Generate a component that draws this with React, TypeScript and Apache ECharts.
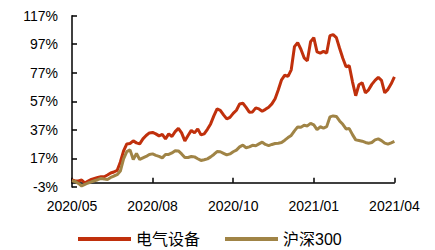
import React, { useEffect, useRef } from "react";
import * as echarts from "echarts";

const tickLabels = ["2020/05", "2020/08", "2020/10", "2021/01", "2021/04"];
const seriesNames = ["电气设备", "沪深300"];

const electrical = [
  1.9, 1.2, 1.2, 1.9, -0.2, 1.2, 2.3, 3.0, 3.7, 4.2,
  4.2, 5.4, 6.8, 7.5, 8.6, 14.5, 22.3, 27.2, 27.5, 29.3,
  27.9, 27.2, 30.7, 33.1, 34.9, 35.2, 34.2, 32.8, 33.8, 30.7,
  34.2, 32.4, 35.8, 38.1, 34.9, 29.3, 33.1, 36.7, 34.9, 37.7,
  33.5, 34.2, 37.4, 41.2, 46.8, 51.7, 50.7, 47.5, 44.7, 45.8,
  48.6, 50.8, 55.2, 55.7, 52.8, 49.4, 49.6, 52.4, 51.7, 50.1,
  51.4, 52.9, 55.2, 58.8, 65.1, 72.1, 75.3, 74.5, 79.1, 95.3,
  98.1, 93.5, 87.5, 85.4, 98.8, 101.6, 91.7, 90.8, 92.0, 90.8,
  103.0, 103.7, 101.6, 94.2, 87.2, 81.2, 81.9, 70.7, 60.9, 68.6,
  70.0, 63.0, 65.1, 68.9, 71.7, 73.8, 71.7, 63.0, 65.4, 69.3,
  74.2,
];

const csi300 = [
  1.4, 0.9, -0.5, -2.3, -1.2, -0.2, 0.6, 1.4, 2.1, 3.0,
  2.6, 2.3, 3.7, 4.7, 5.6, 8.2, 16.7, 21.8, 23.0, 16.3,
  20.5, 16.3, 17.4, 18.4, 19.8, 20.2, 19.2, 18.5, 17.4, 19.8,
  19.8, 20.9, 22.4, 22.3, 20.2, 17.7, 17.7, 18.4, 18.1, 16.8,
  15.6, 16.1, 16.7, 18.1, 19.8, 21.8, 21.7, 20.6, 19.5, 20.2,
  21.7, 22.8, 25.1, 26.3, 24.5, 25.1, 26.2, 25.9, 27.2, 28.4,
  26.8, 26.0, 26.8, 27.5, 27.7, 28.2, 29.8, 31.6, 33.1, 36.3,
  39.1, 38.8, 40.2, 39.8, 41.6, 40.5, 37.2, 39.2, 38.3, 39.3,
  46.1, 46.8, 46.4, 43.3, 40.9, 37.7, 37.9, 33.7, 30.0, 29.6,
  29.1, 28.2, 27.7, 28.2, 30.0, 30.7, 29.5, 27.7, 27.0, 27.9,
  28.9,
];

const colors = ["#C0300C", "#A08446"];
const FONT = "'Liberation Sans', Arial, 'Noto Sans CJK SC', sans-serif";

export default function App() {
  const ref = useRef<HTMLDivElement>(null);

  useEffect(() => {
    if (!ref.current) return;
    const chart = echarts.init(ref.current, null, { renderer: "svg" });
    const lastIndex = electrical.length - 1;
    const step = lastIndex / (tickLabels.length - 1);
    chart.setOption({
      animation: false,
      color: colors,
      textStyle: { fontFamily: FONT },
      grid: { left: 72, right: 40.6, top: 15.7, bottom: 63 },
      legend: {
        left: 73,
        top: 226,
        itemWidth: 53,
        itemHeight: 4,
        itemGap: 25,
        icon: "rect",
        textStyle: { fontSize: 16, lineHeight: 16, color: "#000", fontFamily: FONT },
        data: seriesNames,
      },
      xAxis: {
        type: "value",
        min: 0,
        max: lastIndex,
        interval: step,
        splitLine: { show: false },
        axisLine: { lineStyle: { color: "#000", width: 1.5 } },
        axisTick: { show: true, inside: true, length: 5, lineStyle: { color: "#000", width: 1.5 } },
        axisLabel: {
          color: "#000",
          fontSize: 14,
          margin: 12,
          fontFamily: FONT,
          formatter: (v: number) => tickLabels[Math.round(v / step)] ?? "",
        },
      },
      yAxis: {
        type: "value",
        min: -3,
        max: 117,
        interval: 20,
        splitLine: { show: false },
        axisLine: { show: true, lineStyle: { color: "#000", width: 1.5 } },
        axisTick: { show: true, inside: true, length: 5, lineStyle: { color: "#000", width: 1.5 } },
        axisLabel: {
          color: "#000",
          fontSize: 14,
          margin: 14,
          fontFamily: FONT,
          formatter: "{value}%",
        },
      },
      series: [
        {
          name: seriesNames[0],
          type: "line",
          showSymbol: false,
          symbol: "none",
          lineStyle: { width: 3, color: colors[0] },
          data: electrical.map((v, i) => [i, v]),
          z: 2,
        },
        {
          name: seriesNames[1],
          type: "line",
          showSymbol: false,
          symbol: "none",
          lineStyle: { width: 3, color: colors[1] },
          data: csi300.map((v, i) => [i, v]),
          z: 3,
        },
      ],
    });
    return () => chart.dispose();
  }, []);

  return (
    <div
      ref={ref}
      style={{ position: "fixed", left: 0, top: 0, width: 435, height: 250, background: "#fff" }}
    />
  );
}
